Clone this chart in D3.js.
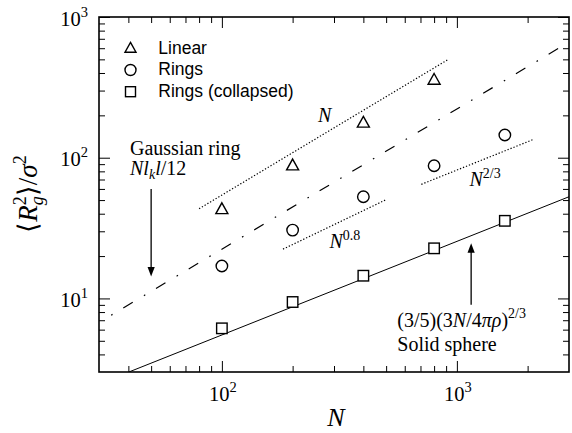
<!DOCTYPE html>
<html>
<head>
<meta charset="utf-8">
<script src="https://cdn.jsdelivr.net/npm/d3@7"></script>
<style>
  html, body { margin: 0; padding: 0; background: #fff; }
  svg { display: block; }
</style>
</head>
<body>
<svg id="chart" width="572" height="433"></svg>
<script>
// ---------------- data ----------------
const N_values      = [100, 200, 400, 800, 1600];
const linearRg2     = [43, 88, 177, 357];          // N = 100..800
const ringsRg2      = [17.0, 30.6, 52.8, 87.7, 145];
const collapsedRg2  = [6.13, 9.43, 14.5, 22.7, 35.6];

// reference lines (end points, data units)
const sphereLineN   = [40.2, 3000];
const sphereLineY   = [3.0, 52.8];
const gaussLineN    = [33.8, 2780];
const gaussLineY    = [7.6, 615];
const fitN_N        = [80, 920];
const fitN_Y        = [43.4, 500];
const fit08_N       = [182, 497];
const fit08_Y       = [22.4, 50.1];
const fit23_N       = [706, 2120];
const fit23_Y       = [64.7, 135];

// annotation arrows (data units)
const gaussArrow    = {N: 50, from: 60, to: 14.3};
const sphereArrow   = {N: 1150, from: 9.0, to: 24.7};

// axes
const xDomain       = [30, 3000];
const yDomain       = [3, 1000];
const xMajorTicks   = [100, 1000];
const xMinorTicks   = [40,50,60,70,80,90,200,300,400,500,600,700,800,900,2000];
const yMajorTicks   = [10, 100, 1000];
const yMinorTicks   = [4,5,6,7,8,9,20,30,40,50,60,70,80,90,200,300,400,500,600,700,800,900];
const xTickLabels   = [{base:"10", exp:"2"}, {base:"10", exp:"3"}];
const yTickLabels   = [{base:"10", exp:"1"}, {base:"10", exp:"2"}, {base:"10", exp:"3"}];
const legendLabels  = ["Linear", "Rings", "Rings (collapsed)"];

// ---------------- layout ----------------
const L = 99, R = 569, T = 17, B = 372;
const SERIF = "'Liberation Serif', 'Times New Roman', serif";
const SANS  = "'Liberation Sans', Arial, sans-serif";

const svg = d3.select("#chart");
const x = d3.scaleLog().domain(xDomain).range([L, R]);
const y = d3.scaleLog().domain(yDomain).range([B, T]);

// clip
svg.append("defs").append("clipPath").attr("id", "clip")
  .append("rect").attr("x", L).attr("y", T).attr("width", R - L).attr("height", B - T);

// ---------------- ticks ----------------
function addAxis(axisFn, tr, vals, size) {
  const g = svg.append("g").attr("transform", tr)
    .call(axisFn.tickValues(vals).tickSize(-size).tickFormat(""));
  g.select(".domain").remove();
  g.selectAll("line").attr("stroke", "#000").attr("stroke-width", 1);
}
addAxis(d3.axisBottom(x), `translate(0,${B})`, xMajorTicks, 11);
addAxis(d3.axisBottom(x), `translate(0,${B})`, xMinorTicks, 6);
addAxis(d3.axisTop(x),    `translate(0,${T})`, xMajorTicks, 11);
addAxis(d3.axisTop(x),    `translate(0,${T})`, xMinorTicks, 6);
addAxis(d3.axisLeft(y),   `translate(${L},0)`, yMajorTicks, 11);
addAxis(d3.axisLeft(y),   `translate(${L},0)`, yMinorTicks, 6);
addAxis(d3.axisRight(y),  `translate(${R},0)`, yMajorTicks, 11);
addAxis(d3.axisRight(y),  `translate(${R},0)`, yMinorTicks, 6);

// ---------------- math-text helper ----------------
// parts: {t, it, size, shift (positive = up), stackBack}
function mathText(parent, px, py, parts, anchor, family) {
  const g = parent.append("g");
  const txt = g.append("text").attr("font-family", family || SERIF).attr("fill", "#000");
  let cx = 0, prevStart = 0, maxX = 0;
  parts.forEach(p => {
    let startX = p.stackBack ? prevStart : cx;
    const ts = txt.append("tspan")
      .attr("x", startX).attr("y", -(p.shift || 0))
      .attr("font-size", p.size)
      .attr("font-style", p.it ? "italic" : "normal")
      .text(p.t);
    const w = ts.node().getComputedTextLength();
    prevStart = startX;
    cx = Math.max(cx, startX + w);
    maxX = Math.max(maxX, cx);
  });
  let off = 0;
  if (anchor === "middle") off = -maxX / 2;
  if (anchor === "end") off = -maxX;
  txt.attr("transform", `translate(${off},0)`);
  g.attr("transform", `translate(${px},${py})`);
  return g;
}

// tick labels
xMajorTicks.forEach((v, i) => {
  mathText(svg, x(v) + 1, 400.5, [
    {t: xTickLabels[i].base, size: 20.5},
    {t: xTickLabels[i].exp, size: 14.5, shift: 9}
  ], "middle");
});
yMajorTicks.forEach((v, i) => {
  mathText(svg, 88, y(v) + 8.7, [
    {t: yTickLabels[i].base, size: 20.5},
    {t: yTickLabels[i].exp, size: 14.5, shift: 9}
  ], "end");
});

// axis titles
mathText(svg, 336, 426, [{t: "N", it: true, size: 26}], "middle");
const yl = svg.append("g").attr("transform", "translate(37,194) rotate(-90)");
mathText(yl, 0, 0, [
  {t: "\u27E8", size: 27},
  {t: "R", it: true, size: 27},
  {t: "2", size: 18, shift: 11},
  {t: "g", it: true, size: 18, shift: -6, stackBack: true},
  {t: "\u27E9", size: 27},
  {t: "/", size: 27},
  {t: "\u03C3", it: true, size: 27},
  {t: "2", size: 18, shift: 11}
], "middle");

// ---------------- reference lines ----------------
const lineGen = d3.line().x(d => x(d[0])).y(d => y(d[1]));
const plot = svg.append("g").attr("clip-path", "url(#clip)");
function refLine(Ns, Ys, dash, w) {
  plot.append("path")
    .attr("d", lineGen(Ns.map((n, i) => [n, Ys[i]])))
    .attr("fill", "none").attr("stroke", "#000")
    .attr("stroke-width", w || 1)
    .attr("stroke-dasharray", dash || null);
}
refLine(sphereLineN, sphereLineY, null, 1);
refLine(gaussLineN, gaussLineY, "1.6,12.5,11,13", 1.2);
refLine(fitN_N, fitN_Y, "1.3,1.9", 1.2);
refLine(fit08_N, fit08_Y, "1.3,1.9", 1.2);
refLine(fit23_N, fit23_Y, "1.3,1.9", 1.2);

// ---------------- markers ----------------
const triPath = (cx, cy, s) => {
  const h = s * 0.9;
  return `M${cx},${cy - h * 0.6}L${cx + s / 2},${cy + h * 0.4}L${cx - s / 2},${cy + h * 0.4}Z`;
};
function drawTri(g, cx, cy, s) {
  g.append("path").attr("d", triPath(cx, cy, s))
    .attr("fill", "#fff").attr("stroke", "#000").attr("stroke-width", 1.4);
}
function drawCirc(g, cx, cy, s) {
  g.append("circle").attr("cx", cx).attr("cy", cy).attr("r", s / 2)
    .attr("fill", "#fff").attr("stroke", "#000").attr("stroke-width", 1.4);
}
function drawSq(g, cx, cy, s) {
  g.append("rect").attr("x", cx - s / 2).attr("y", cy - s / 2).attr("width", s).attr("height", s)
    .attr("fill", "#fff").attr("stroke", "#000").attr("stroke-width", 1.4);
}
const mk = svg.append("g");
linearRg2.forEach((v, i) => drawTri(mk, x(N_values[i]), y(v), 12));
ringsRg2.forEach((v, i) => drawCirc(mk, x(N_values[i]), y(v), 11.5));
collapsedRg2.forEach((v, i) => drawSq(mk, x(N_values[i]), y(v), 10.5));

// ---------------- arrows ----------------
function arrow(N, yFrom, yTo) {
  const ax = x(N), y0 = y(yFrom), y1 = y(yTo);
  const dir = y1 > y0 ? 1 : -1;
  svg.append("line").attr("x1", ax).attr("x2", ax).attr("y1", y0).attr("y2", y1 - dir * 6)
    .attr("stroke", "#000").attr("stroke-width", 1.3);
  svg.append("path")
    .attr("d", `M${ax},${y1}L${ax - 3.6},${y1 - dir * 9.5}L${ax + 3.6},${y1 - dir * 9.5}Z`)
    .attr("fill", "#000");
}
arrow(gaussArrow.N, gaussArrow.from, gaussArrow.to);
arrow(sphereArrow.N, sphereArrow.from, sphereArrow.to);

// ---------------- annotations ----------------
mathText(svg, 130, 155, [{t: "Gaussian ring", size: 20}]);
mathText(svg, 130, 175, [
  {t: "N", it: true, size: 20},
  {t: "l", it: true, size: 20},
  {t: "k", it: true, size: 14, shift: -4},
  {t: "l", it: true, size: 20},
  {t: "/12", size: 20}
]);
mathText(svg, 318, 122.3, [{t: "N", it: true, size: 20}]);
mathText(svg, 329.5, 248.3, [
  {t: "N", it: true, size: 20},
  {t: "0.8", size: 14, shift: 8}
]);
mathText(svg, 469.5, 185.7, [
  {t: "N", it: true, size: 20},
  {t: "2/3", size: 14, shift: 8}
]);
mathText(svg, 397.3, 326.7, [
  {t: "(3/5)(3", size: 20},
  {t: "N", it: true, size: 20},
  {t: "/4", size: 20},
  {t: "\u03C0\u03C1", it: true, size: 20},
  {t: ")", size: 20},
  {t: "2/3", size: 14, shift: 9}
]);
mathText(svg, 397.3, 350.7, [{t: "Solid sphere", size: 20}]);

// ---------------- legend ----------------
const legY = [48.3, 70, 91.7];
const lg = svg.append("g");
drawTri(lg, 130.5, legY[0], 11);
drawCirc(lg, 130.5, legY[1], 11);
drawSq(lg, 130.5, legY[2], 10);
legendLabels.forEach((t, i) => {
  lg.append("text").attr("x", 158.3).attr("y", legY[i] + 5.3)
    .attr("font-family", SANS).attr("font-size", 17.5).attr("fill", "#000").text(t);
});

// ---------------- frame ----------------
svg.append("rect").attr("x", L).attr("y", T).attr("width", R - L).attr("height", B - T)
  .attr("fill", "none").attr("stroke", "#000").attr("stroke-width", 1.6);
</script>
</body>
</html>
